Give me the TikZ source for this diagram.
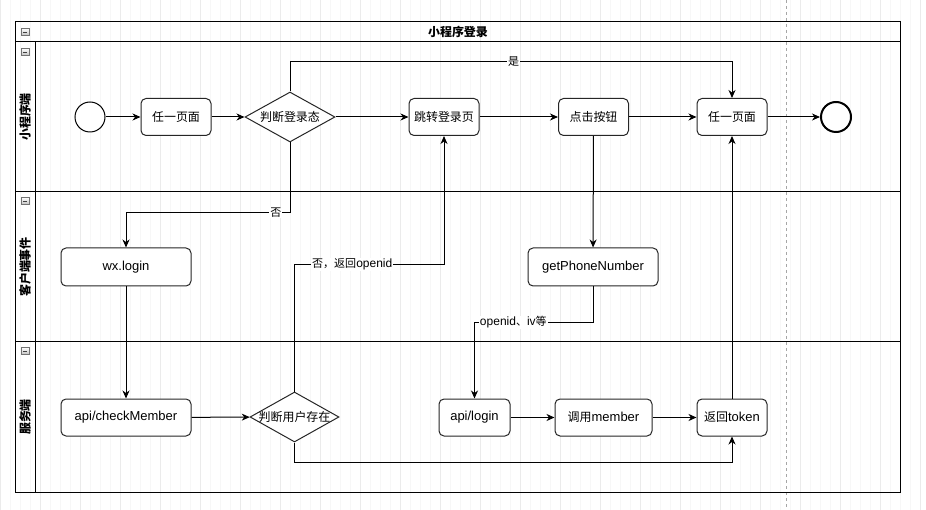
\documentclass[tikz,border=0pt]{standalone}
\usepackage{fontspec}
\setmainfont{Liberation Sans}
\newfontfamily\cjk{Noto Sans CJK SC}[Scale=0.92]
\usetikzlibrary{positioning, shapes.geometric, arrows.meta, calc}

\tikzset{
	task/.style={draw=black!85, line width=1pt, rounded corners=5pt, fill=white,
	             minimum width=70pt, minimum height=37pt, inner sep=2pt},
	decision/.style={draw=black!85, line width=1pt, diamond, fill=white,
	                 minimum width=90pt, minimum height=50pt, inner sep=0pt},
	event/.style={draw, circle, line width=1pt, minimum size=30pt, fill=white},
	flow/.style={line width=1pt, -{Stealth[length=8pt, width=7pt, inset=2.5pt]}},
	flowlabel/.style={fill=white, inner sep=1pt, font=\fontsize{12}{14}\selectfont},
	lanetitle/.style={rotate=90, font=\cjk\bfseries},
	fold/.style={draw=black!55, line width=0.6pt, minimum width=8pt, minimum height=7pt,
	             inner sep=0pt, top color=white, bottom color=black!25,
	             path picture={\draw[black!75, line width=0.8pt]
	               ([xshift=1.8pt]path picture bounding box.west) --
	               ([xshift=-1.8pt]path picture bounding box.east);}}
}

\begin{document}
\begin{tikzpicture}[x=1pt, y=-1pt]\fontsize{13}{15}\selectfont
	\useasboundingbox (0,0) rectangle (926,510);
	\draw[black!3, step=10] (0,0) grid (926,510);
	\draw[black!8, step=40, shift={(0,2)}] (0,-2) grid (926,508);
	\draw[black!35, dashed] (786,0) -- (786,510);

	\draw[line width=1pt] (15,22) rectangle (900,492);
	\draw[line width=1pt] (15,42) -- (900,42) (15,192) -- (900,192)
	                      (15,342) -- (900,342) (35,42) -- (35,492);
	\node[font=\cjk\bfseries] (pool) at (458,32) {小程序登录};
	\node[lanetitle] (lane1) at (25,117) {小程序端};
	\node[lanetitle] (lane2) at (25,267) {客户端事件};
	\node[lanetitle] (lane3) at (25,417) {服务端};
	\foreach \y [count=\i] in {32,52,201,351}
		\node[fold] (fold\i) at (25,\y) {};

	\node[event] (start) at (90,117) {};
	\node[task] (page1) at (176,117) {\cjk 任一页面};
	\node[decision] (check) at (290,117) {\makebox[0pt]{\cjk 判断登录态}};
	\node[task] (jump) at (444,117) {\cjk 跳转登录页};
	\node[task] (tap) at (593.5,117) {\cjk 点击按钮};
	\node[task] (page2) at (732,117) {\cjk 任一页面};
	\node[event, line width=2pt] (end) at (836,117) {};

	\node[task, minimum width=130pt, minimum height=38pt] (wxlogin) at (126,267) {wx.login};
	\node[task, minimum width=130pt, minimum height=38pt] (phone) at (593,267) {getPhoneNumber};

	\node[task, minimum width=130pt] (checkm) at (126,417.5) {api/checkMember};
	\node[decision, minimum width=89pt] (exist) at (294.5,417) {\makebox[0pt]{\cjk 判断用户存在}};
	\node[task, minimum width=71pt] (apilogin) at (474.5,417.5) {api/login};
	\node[task, minimum width=97pt] (member) at (603.5,417.5) {{\cjk 调用}member};
	\node[task] (token) at (732,417.5) {{\cjk 返回}token};

	\draw[flow] (start) -- (page1);
	\draw[flow] (page1) -- (check);
	\draw[flow] (check) -- (jump);
	\draw[flow] (jump) -- (tap);
	\draw[flow] (tap) -- (page2);
	\draw[flow] (page2) -- (end);
	\draw[flow] (check.north) -- ++(0,-30) -| (page2.north) node[flowlabel, pos=0.253] {\cjk 是};
	\draw[flow] (check.south) -- ++(0,70) -| (wxlogin.north) node[flowlabel, pos=0.043] {\cjk 否};
	\draw[flow] (tap) -- (phone);
	\draw[flow] (wxlogin) -- (checkm);
	\draw[flow] (checkm) -- (exist);
	\draw[flow] (exist.north) -- ++(0,-127) -| (jump.south) node[flowlabel, pos=0.193] {{\cjk 否，返回}openid};
	\draw[flow] (phone.south) -- ++(0,36) -| (apilogin.north) node[flowlabel, pos=0.336] {openid{\cjk 、}iv{\cjk 等}};
	\draw[flow] (apilogin) -- (member);
	\draw[flow] (member) -- (token);
	\draw[flow] (exist.south) -- ++(0,20) -| (token.south);
	\draw[flow] (token) -- (page2);
\end{tikzpicture}
\end{document}
